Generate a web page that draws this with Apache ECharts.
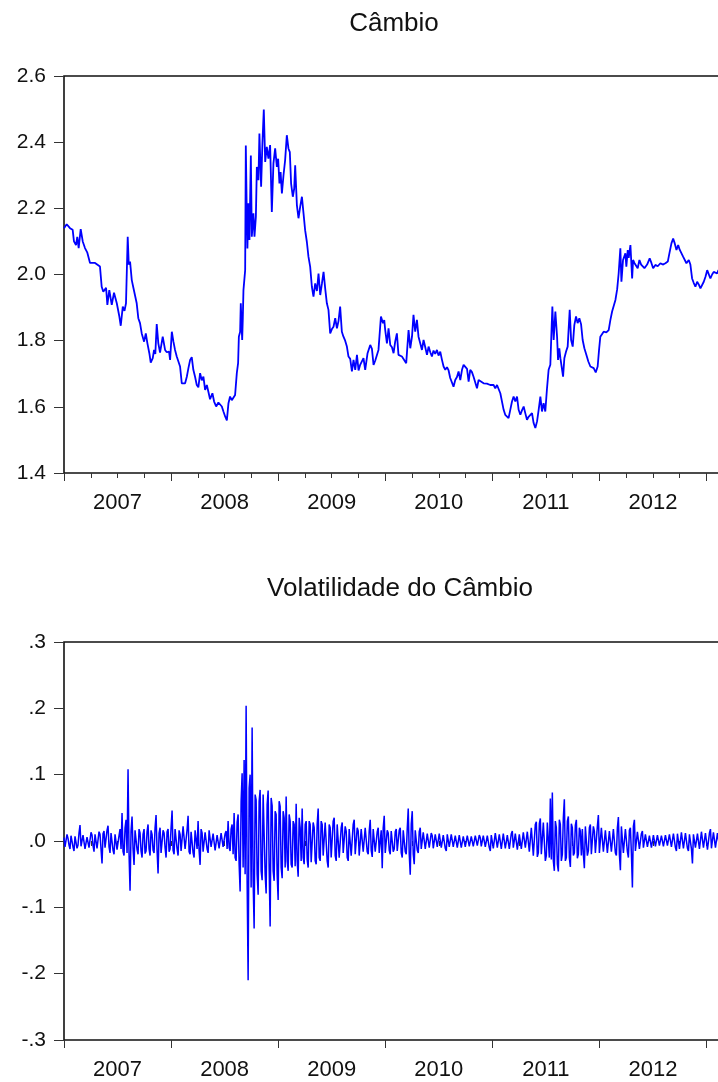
<!DOCTYPE html>
<html>
<head>
<meta charset="utf-8">
<script src="https://cdn.jsdelivr.net/npm/echarts@6/dist/echarts.min.js"></script>
<style>
html,body{margin:0;padding:0;background:#ffffff;}
#chart{width:718px;height:1082px;}
</style>
</head>
<body>
<div id="chart"></div>
<script>
// ---------- DATA ----------
const yearLabels = ['2007', '2008', '2009', '2010', '2011', '2012'];
const cambioTitle = 'Câmbio';
const volTitle = 'Volatilidade do Câmbio';

// Câmbio (R$/US$): [fractional year, value]
const cambioData = [
[2007.000,2.140],[2007.025,2.152],[2007.056,2.140],[2007.081,2.135],[2007.093,2.100],[2007.112,2.089],[2007.124,2.114],[2007.137,2.080],[2007.156,2.137],[2007.175,2.100],
[2007.196,2.080],[2007.218,2.066],[2007.243,2.035],[2007.290,2.035],[2007.336,2.024],[2007.352,1.963],[2007.367,1.948],[2007.393,1.960],[2007.405,1.908],[2007.423,1.953],
[2007.446,1.908],[2007.467,1.945],[2007.493,1.913],[2007.517,1.873],[2007.530,1.845],[2007.549,1.903],[2007.565,1.890],[2007.579,1.913],[2007.595,2.114],[2007.605,2.030],
[2007.617,2.039],[2007.633,1.983],[2007.648,1.960],[2007.664,1.965],[2007.679,1.913],[2007.694,1.868],[2007.710,1.853],[2007.726,1.822],[2007.748,1.797],[2007.764,1.822],
[2007.779,1.792],[2007.797,1.762],[2007.810,1.734],[2007.829,1.747],[2007.841,1.772],[2007.853,1.760],[2007.866,1.850],[2007.881,1.792],[2007.897,1.764],[2007.922,1.812],
[2007.944,1.772],[2007.960,1.765],[2007.981,1.767],[2007.991,1.742],
[2008.007,1.827],[2008.022,1.797],[2008.037,1.772],[2008.053,1.752],[2008.068,1.750],[2008.084,1.722],[2008.100,1.671],[2008.131,1.671],[2008.147,1.691],[2008.162,1.717],
[2008.178,1.742],[2008.193,1.750],[2008.208,1.712],[2008.224,1.691],[2008.240,1.666],[2008.255,1.659],[2008.271,1.702],[2008.287,1.680],[2008.302,1.691],[2008.318,1.651],
[2008.334,1.666],[2008.349,1.645],[2008.364,1.623],[2008.386,1.641],[2008.402,1.616],[2008.421,1.601],[2008.442,1.613],[2008.458,1.610],[2008.474,1.601],[2008.489,1.586],
[2008.505,1.571],[2008.521,1.559],[2008.536,1.611],[2008.551,1.631],[2008.567,1.620],[2008.582,1.621],[2008.598,1.636],[2008.614,1.702],[2008.626,1.732],[2008.633,1.812],
[2008.645,1.827],[2008.651,1.913],[2008.664,1.802],[2008.670,1.868],[2008.676,1.953],[2008.692,2.013],[2008.698,2.390],[2008.707,2.185],[2008.713,2.079],[2008.722,2.215],
[2008.732,2.104],[2008.745,2.360],[2008.754,2.114],[2008.769,2.185],[2008.779,2.114],[2008.792,2.175],[2008.801,2.325],[2008.816,2.285],[2008.825,2.426],[2008.841,2.265],
[2008.853,2.396],[2008.866,2.499],[2008.879,2.340],[2008.894,2.386],[2008.909,2.350],[2008.925,2.391],[2008.941,2.189],[2008.956,2.336],[2008.972,2.381],[2008.988,2.325],
[2009.000,2.350],[2009.012,2.275],[2009.023,2.310],[2009.035,2.245],[2009.050,2.300],[2009.065,2.345],[2009.081,2.421],[2009.096,2.381],[2009.109,2.370],[2009.121,2.275],
[2009.137,2.235],[2009.150,2.260],[2009.159,2.330],[2009.175,2.210],[2009.190,2.170],[2009.206,2.205],[2009.222,2.235],[2009.237,2.185],[2009.252,2.134],[2009.268,2.099],
[2009.283,2.054],[2009.299,2.024],[2009.315,1.963],[2009.330,1.933],[2009.346,1.973],[2009.362,1.950],[2009.377,2.003],[2009.393,1.938],[2009.409,1.973],[2009.424,2.008],
[2009.441,1.953],[2009.455,1.913],[2009.470,1.893],[2009.486,1.822],[2009.502,1.835],[2009.517,1.842],[2009.533,1.868],[2009.549,1.837],[2009.564,1.860],[2009.579,1.903],
[2009.595,1.827],[2009.610,1.812],[2009.626,1.800],[2009.642,1.782],[2009.657,1.752],[2009.673,1.745],[2009.689,1.707],[2009.704,1.742],[2009.720,1.712],[2009.736,1.757],
[2009.751,1.710],[2009.766,1.727],[2009.797,1.747],[2009.813,1.712],[2009.835,1.762],[2009.860,1.787],[2009.876,1.775],[2009.891,1.727],[2009.907,1.740],[2009.937,1.772],
[2009.960,1.873],[2009.979,1.853],[2009.991,1.862],
[2010.000,1.832],[2010.016,1.792],[2010.031,1.837],[2010.047,1.787],[2010.063,1.780],[2010.078,1.762],[2010.093,1.797],[2010.109,1.822],[2010.124,1.757],[2010.140,1.762],
[2010.156,1.752],[2010.171,1.757],[2010.196,1.732],[2010.218,1.832],[2010.234,1.777],[2010.250,1.812],[2010.264,1.878],[2010.280,1.827],[2010.296,1.863],[2010.311,1.812],
[2010.327,1.792],[2010.343,1.772],[2010.358,1.802],[2010.374,1.780],[2010.390,1.757],[2010.405,1.782],[2010.421,1.765],[2010.436,1.752],[2010.451,1.770],[2010.467,1.760],
[2010.483,1.772],[2010.498,1.755],[2010.514,1.767],[2010.530,1.742],[2010.545,1.722],[2010.561,1.712],[2010.577,1.720],[2010.592,1.710],[2010.607,1.687],[2010.623,1.685],
[2010.638,1.661],[2010.654,1.681],[2010.670,1.690],[2010.685,1.707],[2010.701,1.681],[2010.717,1.712],[2010.732,1.727],[2010.748,1.732],[2010.764,1.715],[2010.779,1.676],
[2010.794,1.712],[2010.810,1.705],[2010.825,1.691],[2010.841,1.688],[2010.857,1.656],[2010.872,1.681],[2010.888,1.676],[2010.919,1.671],[2010.950,1.670],[2010.981,1.666],
[2011.012,1.666],[2011.028,1.656],[2011.044,1.666],[2011.059,1.661],[2011.075,1.641],[2011.091,1.635],[2011.106,1.591],[2011.121,1.576],[2011.137,1.580],[2011.152,1.566],
[2011.168,1.591],[2011.184,1.616],[2011.199,1.631],[2011.215,1.616],[2011.231,1.631],[2011.246,1.591],[2011.262,1.576],[2011.278,1.590],[2011.293,1.601],[2011.308,1.581],
[2011.324,1.561],[2011.339,1.570],[2011.355,1.566],[2011.371,1.581],[2011.386,1.551],[2011.402,1.536],[2011.418,1.556],[2011.433,1.591],[2011.449,1.631],[2011.464,1.586],
[2011.479,1.611],[2011.495,1.586],[2011.511,1.656],[2011.526,1.712],[2011.542,1.727],[2011.551,1.812],[2011.561,1.903],[2011.573,1.802],[2011.589,1.888],[2011.605,1.812],
[2011.614,1.742],[2011.626,1.777],[2011.636,1.747],[2011.651,1.750],[2011.661,1.691],[2011.673,1.747],[2011.689,1.767],[2011.704,1.782],[2011.723,1.893],[2011.736,1.802],
[2011.751,1.782],[2011.766,1.847],[2011.782,1.873],[2011.797,1.853],[2011.813,1.868],[2011.829,1.850],[2011.844,1.802],[2011.860,1.777],[2011.879,1.757],[2011.897,1.737],
[2011.916,1.722],[2011.947,1.717],[2011.966,1.704],[2011.984,1.722],[2011.997,1.772],
[2012.009,1.812],[2012.040,1.827],[2012.065,1.825],[2012.087,1.832],[2012.103,1.863],[2012.119,1.888],[2012.134,1.890],[2012.150,1.923],[2012.166,1.955],[2012.180,2.003],
[2012.196,2.079],[2012.206,1.978],[2012.221,2.044],[2012.234,2.040],[2012.243,2.064],[2012.252,2.024],[2012.265,2.074],[2012.274,2.050],[2012.290,2.089],[2012.306,1.988],
[2012.315,2.044],[2012.327,2.035],[2012.343,2.040],[2012.358,2.019],[2012.374,2.044],[2012.390,2.030],[2012.405,2.035],[2012.421,2.019],[2012.446,2.030],[2012.470,2.049],
[2012.486,2.035],[2012.502,2.019],[2012.523,2.029],[2012.545,2.025],[2012.570,2.034],[2012.592,2.030],[2012.617,2.034],[2012.639,2.039],[2012.654,2.064],[2012.673,2.094],
[2012.689,2.109],[2012.704,2.094],[2012.720,2.074],[2012.736,2.089],[2012.750,2.075],[2012.766,2.080],[2012.782,2.054],[2012.797,2.050],[2012.813,2.034],[2012.835,2.044],
[2012.850,2.030],[2012.866,1.988],[2012.881,1.975],[2012.897,1.963],[2012.913,1.978],[2012.928,1.970],[2012.944,1.958],[2012.960,1.960],[2012.975,1.978],[2012.991,1.993],
[2013.007,2.013],[2013.022,2.010],[2013.037,1.988],[2013.053,2.000],[2013.068,2.008],[2013.084,2.005],[2013.100,2.003],[2013.112,2.013],[2013.131,2.010],[2013.159,2.000],
[2013.187,2.020],[2013.215,2.010]
];

// Volatilidade do Câmbio: observations starting 2007.0, one every volStep years
const volStart = 2007.0;
const volStep = 1 / 107;
const volValues = [
 0.005,-0.009,-0.008, 0.010, 0.004,-0.006,-0.012, 0.008, 0.006,-0.009,
-0.015, 0.007, 0.010,-0.011,-0.006, 0.012, 0.024,-0.008,-0.010, 0.009,
 0.008,-0.012,-0.014, 0.006, 0.005,-0.010,-0.011, 0.013, 0.009,-0.007,
-0.016, 0.010, 0.012,-0.011,-0.008, 0.014, 0.010,-0.012,-0.034, 0.011,
 0.015,-0.010,-0.012, 0.016, 0.023,-0.009,-0.018, 0.012, 0.009,-0.014,
-0.020, 0.010, 0.012,-0.013,-0.015, 0.008, 0.018,-0.012, 0.042,-0.016,
-0.022, 0.020, 0.032,-0.018, 0.108,-0.020,-0.075, 0.015, 0.037,-0.012,
-0.036, 0.016, 0.015,-0.013,-0.020, 0.018, 0.012,-0.015,-0.025, 0.010,
 0.018,-0.019,-0.015, 0.014, 0.025,-0.012,-0.022, 0.016, 0.010,-0.014,
-0.018, 0.020, 0.039,-0.014,-0.049, 0.012, 0.020,-0.018,-0.015, 0.016,
 0.012,-0.010,-0.025, 0.014, 0.018,-0.016,-0.012, 0.020, 0.046,-0.014,
-0.020, 0.018, 0.015,-0.012,-0.022, 0.016, 0.010,-0.015,-0.018, 0.022,
 0.020,-0.012,-0.015, 0.017, 0.038,-0.016,-0.020, 0.014, 0.012,-0.018,
-0.025, 0.016, 0.015,-0.012, 0.030,-0.014,-0.036, 0.018, 0.012,-0.016,
-0.015, 0.013, 0.010,-0.012,-0.018, 0.016, 0.014,-0.009,-0.010, 0.011,
 0.012,-0.014,-0.016, 0.009, 0.008,-0.011,-0.012, 0.012, 0.010,-0.009,
-0.008, 0.011, 0.015,-0.012, 0.030,-0.010,-0.015, 0.018, 0.025,-0.020,
 0.042,-0.025,-0.030, 0.028, 0.040,-0.035,-0.076, 0.060, 0.102,-0.040,
 0.122,-0.050, 0.204,-0.060,-0.210, 0.080, 0.100,-0.070, 0.171,-0.060,
-0.132, 0.070, 0.062,-0.050,-0.081, 0.060, 0.077,-0.045,-0.059, 0.070,
 0.067,-0.050,-0.079, 0.055, 0.076,-0.040,-0.129, 0.065, 0.053,-0.045,
-0.060, 0.045, 0.040,-0.050,-0.089, 0.060, 0.052,-0.040,-0.056, 0.045,
 0.035,-0.040, 0.067,-0.030,-0.045, 0.040, 0.030,-0.035,-0.040, 0.030,
 0.025,-0.038, 0.056,-0.030,-0.054, 0.035, 0.020,-0.030, 0.049,-0.025,
-0.035, 0.025, 0.030,-0.028,-0.040, 0.030, 0.025,-0.032,-0.030, 0.028,
 0.020,-0.030,-0.035, 0.025, 0.049,-0.025,-0.030, 0.030, 0.025,-0.022,
-0.025, 0.028, 0.030,-0.030,-0.040, 0.025, 0.020,-0.025,-0.028, 0.030,
 0.035,-0.022,-0.030, 0.025, 0.022,-0.025,-0.025, 0.020, 0.028,-0.018,
-0.020, 0.022, 0.015,-0.025,-0.030, 0.018, 0.020,-0.022,-0.020, 0.025,
 0.032,-0.020,-0.018, 0.020, 0.015,-0.022,-0.025, 0.018, 0.020,-0.016,
-0.015, 0.020, 0.018,-0.016,-0.020, 0.015, 0.032,-0.014,-0.024, 0.018,
 0.015,-0.016,-0.018, 0.014, 0.020,-0.018,-0.015, 0.016,-0.041, 0.020,
 0.038,-0.018,-0.015, 0.016, 0.012,-0.014,-0.020, 0.015, 0.015,-0.016,
-0.012, 0.014, 0.018,-0.015,-0.015, 0.016, 0.020,-0.018,-0.025, 0.016,
 0.015,-0.016,-0.020, 0.018, 0.049,-0.020,-0.051, 0.025, 0.045,-0.020,
-0.035, 0.016, 0.015,-0.014,-0.018, 0.014, 0.020,-0.012,-0.012, 0.013,
 0.010,-0.012,-0.015, 0.011, 0.012,-0.010,-0.010, 0.012, 0.008,-0.011,
-0.012, 0.010, 0.010,-0.009,-0.008, 0.011, 0.012,-0.010,-0.010, 0.009,
 0.008,-0.011,-0.015, 0.010, 0.010,-0.009,-0.008, 0.010, 0.012,-0.009,
-0.010, 0.008, 0.009,-0.010,-0.012, 0.009, 0.008,-0.010,-0.010, 0.007,
 0.006,-0.009,-0.008, 0.008, 0.007,-0.008,-0.009, 0.007, 0.006,-0.008,
-0.010, 0.008, 0.010,-0.007,-0.008, 0.009, 0.005,-0.008,-0.007, 0.008,
 0.006,-0.009,-0.012, 0.008, 0.005,-0.010,-0.015, 0.009, 0.012,-0.011,
-0.010, 0.012, 0.015,-0.010,-0.012, 0.010, 0.008,-0.012,-0.015, 0.011,
 0.012,-0.011,-0.010, 0.009, 0.010,-0.012,-0.012, 0.011, 0.015,-0.010,
-0.010, 0.011, 0.012,-0.013,-0.015, 0.010, 0.010,-0.012,-0.012, 0.013,
 0.015,-0.010,-0.008, 0.014, 0.012,-0.016,-0.015, 0.020, 0.018,-0.022,
-0.020, 0.025, 0.029,-0.024,-0.018, 0.026, 0.034,-0.020,-0.020, 0.028,
 0.025,-0.030,-0.022, 0.028, 0.030,-0.025, 0.064,-0.028, 0.073,-0.030,
-0.045, 0.030, 0.020,-0.035,-0.046, 0.032, 0.025,-0.030,-0.020, 0.035,
 0.063,-0.030,-0.025, 0.030, 0.037,-0.025,-0.039, 0.026, 0.020,-0.022,
-0.018, 0.024, 0.032,-0.026,-0.020, 0.020, 0.015,-0.022, 0.018,-0.020,
-0.041, 0.022, 0.020,-0.022,-0.015, 0.020, 0.025,-0.020,-0.018, 0.022,
 0.015,-0.018,-0.020, 0.022, 0.039,-0.018,-0.015, 0.020, 0.020,-0.016,
-0.018, 0.016, 0.015,-0.018,-0.020, 0.015, 0.018,-0.016,-0.015, 0.018,
 0.020,-0.018,-0.022, 0.020, 0.036,-0.020,-0.044, 0.022, 0.025,-0.018,
-0.020, 0.018, 0.015,-0.016,-0.025, 0.016, 0.020,-0.018,-0.070, 0.022,
 0.032,-0.015,-0.015, 0.014, 0.012,-0.012,-0.010, 0.011, 0.015,-0.010,
-0.008, 0.010, 0.010,-0.009,-0.012, 0.008, 0.008,-0.010,-0.010, 0.009,
 0.012,-0.008,-0.006, 0.009, 0.008,-0.007,-0.010, 0.008, 0.006,-0.008,
-0.008, 0.009, 0.010,-0.007,-0.006, 0.010, 0.008,-0.009,-0.010, 0.011,
 0.012,-0.010,-0.015, 0.011, 0.010,-0.012,-0.012, 0.013, 0.015,-0.011,
-0.010, 0.012, 0.012,-0.011,-0.015, 0.010, 0.010,-0.012,-0.034, 0.010,
 0.012,-0.010,-0.010, 0.011, 0.008,-0.012,-0.012, 0.014, 0.015,-0.010,
-0.010, 0.012, 0.012,-0.013,-0.015, 0.012, 0.018,-0.011,-0.012, 0.013,
 0.015,-0.010,-0.010, 0.012, 0.012,-0.009,-0.008, 0.010, 0.010,-0.011,
-0.012, 0.009, 0.008,-0.010,-0.010, 0.007, 0.005
];

// Axis settings (data ranges)
const X_MIN = 2007;
const X_MAX = 2013.22;
const cambioRange = {min: 1.4, max: 2.6, step: 0.2};
const volRange = {min: -0.3, max: 0.3, step: 0.1};

// ---------- CHART ----------
const FONT = '"Liberation Sans", Arial, Helvetica, sans-serif';
const TXT = '#111111';
const LINE = '#111111';
const BLUE = '#0000ff';

const volData = volValues.map((v, i) => [volStart + i * volStep, v]);

function yearLabelFormatter(v) {
  const f = v - Math.floor(v);
  if (Math.abs(f - 0.5) < 1e-6) {
    return yearLabels[Math.floor(v) - X_MIN] || '';
  }
  return '';
}

function xAxesFor(gridIndex) {
  return [
    { // quarter ticks + year labels
      gridIndex: gridIndex, type: 'value', position: 'bottom',
      min: X_MIN, max: X_MAX, interval: 0.25,
      axisLine: {show: false},
      axisTick: {show: true, inside: false, length: 5, lineStyle: {color: '#333', width: 1}},
      axisLabel: {show: true, margin: 19, fontSize: 22, fontFamily: FONT, color: TXT,
                  showMinLabel: true, showMaxLabel: true, formatter: yearLabelFormatter},
      splitLine: {show: false}
    },
    { // year ticks
      gridIndex: gridIndex, type: 'value', position: 'bottom',
      min: X_MIN, max: X_MAX, interval: 1,
      axisLine: {show: false},
      axisTick: {show: true, inside: false, length: 8, lineStyle: {color: '#333', width: 1}},
      axisLabel: {show: false},
      splitLine: {show: false}
    }
  ];
}

function volLabel(v) {
  if (Math.abs(v) < 1e-9) return '.0';
  const s = Math.abs(v).toFixed(1).replace(/^0/, '');
  return (v < 0 ? '-' : '') + s;
}

const chart = echarts.init(document.getElementById('chart'), null, {renderer: 'canvas'});

const gridBase = {left: 64, right: -12, show: true, borderColor: LINE, borderWidth: 1.6,
                  backgroundColor: 'transparent', containLabel: false, outerBoundsMode: 'none'};

const option = {
  animation: false,
  backgroundColor: '#ffffff',
  textStyle: {fontFamily: FONT},
  grid: [
    Object.assign({}, gridBase, {top: 76, height: 397}),
    Object.assign({}, gridBase, {top: 642, height: 398})
  ],
  xAxis: [].concat(xAxesFor(0), xAxesFor(1)),
  yAxis: [
    {
      gridIndex: 0, type: 'value', min: cambioRange.min, max: cambioRange.max, interval: cambioRange.step,
      axisLine: {show: false},
      axisTick: {show: true, inside: false, length: 10, lineStyle: {color: '#333', width: 1}},
      axisLabel: {margin: 18, fontSize: 21, fontFamily: FONT, color: TXT, formatter: v => v.toFixed(1)},
      splitLine: {show: false}
    },
    {
      gridIndex: 1, type: 'value', min: volRange.min, max: volRange.max, interval: volRange.step,
      axisLine: {show: false},
      axisTick: {show: true, inside: false, length: 10, lineStyle: {color: '#333', width: 1}},
      axisLabel: {margin: 18, fontSize: 21, fontFamily: FONT, color: TXT, formatter: volLabel},
      splitLine: {show: false}
    }
  ],
  graphic: [
    {type: 'text', x: 394, y: 11, style: {text: cambioTitle, font: '26px ' + FONT, fill: TXT, textAlign: 'center', textVerticalAlign: 'top'}},
    {type: 'text', x: 400, y: 576, style: {text: volTitle, font: '26px ' + FONT, fill: TXT, textAlign: 'center', textVerticalAlign: 'top'}}
  ],
  series: [
    {
      name: cambioTitle, type: 'line', xAxisIndex: 0, yAxisIndex: 0,
      data: cambioData, showSymbol: false, symbol: 'none', clip: true,
      lineStyle: {color: BLUE, width: 1.8}
    },
    {
      name: volTitle, type: 'line', xAxisIndex: 2, yAxisIndex: 1,
      data: volData, showSymbol: false, symbol: 'none', clip: true,
      lineStyle: {color: BLUE, width: 1.5}
    }
  ]
};

chart.setOption(option);
</script>
</body>
</html>
